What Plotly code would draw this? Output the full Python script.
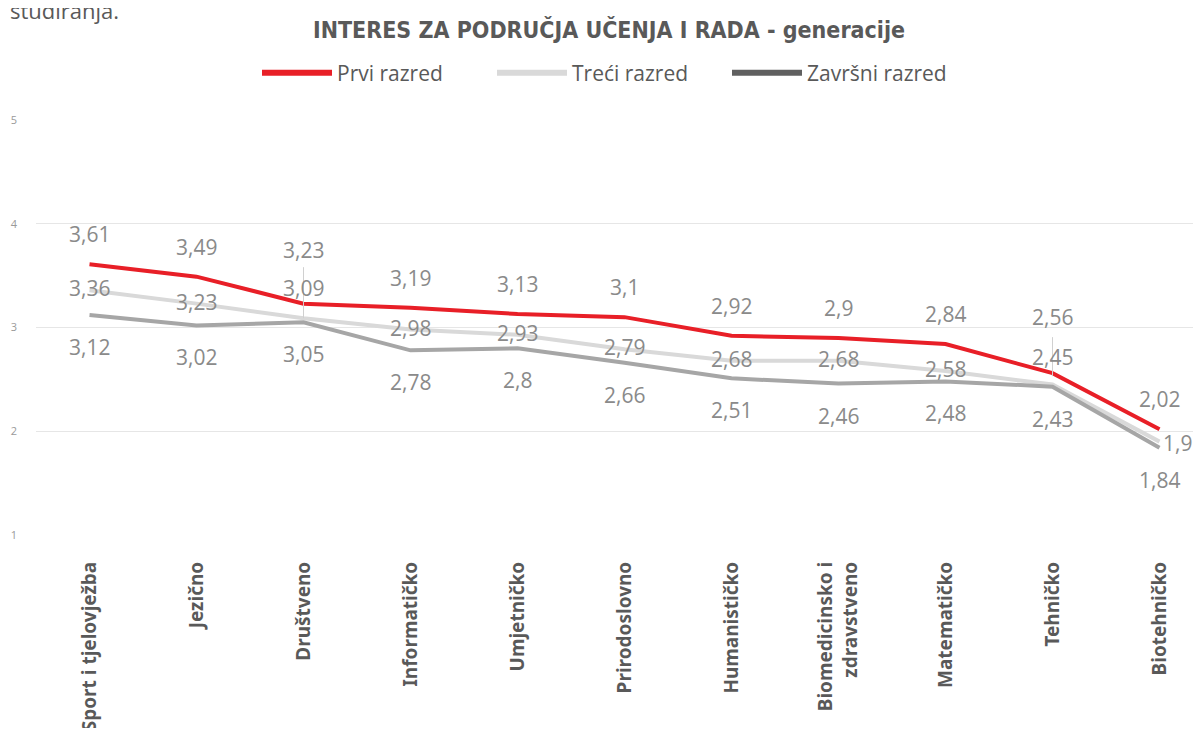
import plotly.graph_objects as go

categories = ["Sport i tjelovježba", "Jezično", "Društveno", "Informatičko", "Umjetničko",
              "Prirodoslovno", "Humanističko", "Biomedicinsko i<br>zdravstveno", "Matematičko",
              "Tehničko", "Biotehničko"]
prvi = [3.61, 3.49, 3.23, 3.19, 3.13, 3.10, 2.92, 2.90, 2.84, 2.56, 2.02]
treci = [3.36, 3.23, 3.09, 2.98, 2.93, 2.79, 2.68, 2.68, 2.58, 2.45, 1.90]
zavrsni = [3.12, 3.02, 3.05, 2.78, 2.80, 2.66, 2.51, 2.46, 2.48, 2.43, 1.84]
series_names = ["Prvi razred", "Treći razred", "Završni razred"]

LINE_COLORS = ["#E81F27", "#D9D9D9", "#A6A6A6"]
LEGEND_COLORS = ["#E81F27", "#D9D9D9", "#606060"]
LABEL_COLOR = "#8A8A8A"
LABEL_FONT = "Open Sans, Lato, sans-serif"

FIG_W, FIG_H = 1185, 720
M_L, M_R, M_T, M_B = 28, 0, 112, 193
PLOT_W = FIG_W - M_L - M_R
PLOT_H = FIG_H - M_T - M_B


def fmt(v):
    s = f"{v:.2f}".rstrip("0").rstrip(".")
    return s.replace(".", ",")


fig = go.Figure()
all_series = [prvi, treci, zavrsni]
for vals, name, col in zip(all_series, series_names, LINE_COLORS):
    fig.add_trace(go.Scatter(x=categories, y=vals, mode="lines", name=name,
                             line=dict(color=col, width=4), showlegend=False,
                             hoverinfo="x+y"))
# legend entries
for name, col in zip(series_names, LEGEND_COLORS):
    fig.add_trace(go.Scatter(x=[None], y=[None], mode="lines", name=name,
                             line=dict(color=col, width=6), showlegend=True))

# data labels
default_shift = [30, 2, -32]
overrides = {(0, 2): 54, (1, 2): 30, (0, 9): 56, (1, 9): 28}
annotations = []
for si, vals in enumerate(all_series):
    for ci, (c, v) in enumerate(zip(categories, vals)):
        ys = overrides.get((si, ci), default_shift[si])
        xs = 0
        xa = "center"
        if si == 1 and ci == len(categories) - 1:
            xs = 1
            ys = -1
            xa = "left"
        annotations.append(dict(x=c, y=v, xref="x", yref="y", text=fmt(v), showarrow=False,
                                yshift=ys, xshift=xs, xanchor=xa,
                                font=dict(family=LABEL_FONT, size=21, color=LABEL_COLOR)))

annotations.append(dict(x=0, xref="paper", xanchor="left", xshift=-M_L,
                        y=1, yref="paper", yanchor="middle", yshift=110,
                        text="studiranja.", showarrow=False,
                        font=dict(family=LABEL_FONT, size=22, color="#595959")))

# leader lines
shapes = [
    dict(type="line", xref="x", x0=categories[2], x1=categories[2], yref="y",
         ysizemode="pixel", yanchor=treci[2], y0=0, y1=51,
         line=dict(color="#D0D0D0", width=1)),
    dict(type="line", xref="x", x0=categories[9], x1=categories[9], yref="y",
         ysizemode="pixel", yanchor=prvi[9], y0=-3, y1=36,
         line=dict(color="#D0D0D0", width=1)),
]

fig.update_layout(
    width=FIG_W, height=FIG_H,
    margin=dict(l=M_L, r=M_R, t=M_T, b=M_B, autoexpand=False),
    paper_bgcolor="white", plot_bgcolor="white",
    title=dict(text="<b>INTERES ZA PODRUČJA UČENJA I RADA - generacije</b>",
               x=601 / FIG_W, xanchor="center", y=1 - 22 / FIG_H, yanchor="middle",
               font=dict(family="Liberation Sans Narrow, DejaVu Sans Condensed, Arial Narrow, sans-serif",
                         size=23, color="#595959")),
    legend=dict(orientation="h", x=(249 - M_L) / PLOT_W, xanchor="left",
                y=1 + 47 / PLOT_H, yanchor="middle",
                font=dict(family=LABEL_FONT, size=21, color="#595959"),
                itemwidth=70, entrywidth=150, bgcolor="rgba(0,0,0,0)"),
    xaxis=dict(type="category", range=[-0.5, -0.5 + PLOT_W / 107], showgrid=False, showline=False,
               zeroline=False, ticks="", tickangle=-90, ticklabelstandoff=22,
               automargin=False,
               tickfont=dict(family="Noto Sans, Open Sans, sans-serif", size=19, color="#595959",
                             weight="bold")),
    yaxis=dict(range=[1, 5], tickvals=[1, 2, 3, 4, 5], showgrid=True, gridcolor="#E6E6E6",
               gridwidth=1, zeroline=False, showline=False, ticks="",
               ticklabelstandoff=18, automargin=False,
               tickfont=dict(family="Open Sans, sans-serif", size=11, color="#9A9A9A")),
    annotations=annotations,
    shapes=shapes,
    showlegend=True,
)

fig.write_html("out.html")
